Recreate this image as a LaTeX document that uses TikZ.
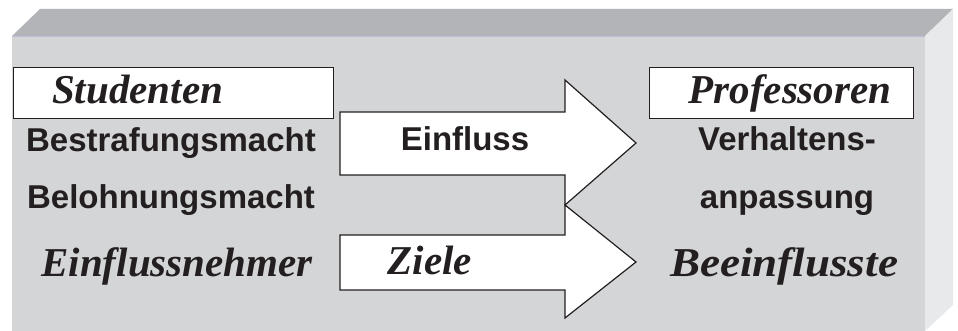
\documentclass[tikz,border=0pt]{standalone}
\usepackage{fontspec}
\setmainfont{Liberation Serif}
\setsansfont{Liberation Sans}
\definecolor{topgray}{HTML}{B2B4B7}
\definecolor{frontgray}{HTML}{D4D5D7}
\definecolor{sidegray}{HTML}{E8E9EA}
\definecolor{ink}{HTML}{231F20}
\tikzset{
  serifbig/.style={font=\fontsize{41}{41}\selectfont\rmfamily\bfseries\itshape, text=ink, inner sep=0pt},
  sansbig/.style={font=\fontsize{33}{33}\selectfont\sffamily\bfseries, text=ink, inner sep=0pt},
  titlebox/.style={draw=ink, line width=1.3pt, fill=white, inner sep=0pt, anchor=north west},
  bigarrow/.style={draw=ink, line width=1.2pt, fill=white, line join=miter},
}
\begin{document}
\begin{tikzpicture}[x=1pt,y=-1pt]
\useasboundingbox (0,0) rectangle (958,331);
% block faces
\fill[topgray] (12,36) -- (40,9) -- (953,9) -- (925,36) -- cycle;
\fill[sidegray] (925,36) -- (953,9) -- (953,305) -- (925,331) -- cycle;
\fill[frontgray] (12,36) rectangle (925,331);
\draw[color=topgray!80!blue!60!white, line width=0.8pt] (12,36) -- (925,36);
% title boxes
\node[titlebox, minimum width=320pt, minimum height=51pt] (studbox) at (13,67) {};
\node[titlebox, minimum width=264pt, minimum height=51pt] (profbox) at (649,67) {};
\node[serifbig, anchor=base west] (stud) at (52,104) {Studenten};
\node[serifbig, anchor=base] (prof) at (790,104) {Professoren};
% left column
\node[sansbig, anchor=base] (bestr) at (171,152) {Bestrafungsmacht};
\node[sansbig, anchor=base] (beloh) at (171,208) {Belohnungsmacht};
\node[serifbig, anchor=base] (nehmer) at (177,276) {Einflussnehmer};
% right column
\node[sansbig, anchor=base] (verh) at (787,151) {Verhaltens-};
\node[sansbig, anchor=base] (anp) at (787,208) {anpassung};
\node[serifbig, anchor=base, xscale=1.1] (beein) at (784,276) {Beeinflusste};
% arrows
\draw[bigarrow] (340,112) -- (565,112) -- (565,80) -- (636,143) -- (565,205) -- (565,175) -- (340,175) -- cycle;
\draw[bigarrow] (340,235) -- (565,235) -- (565,205) -- (636,262) -- (565,318) -- (565,290) -- (340,290) -- cycle;
\node[sansbig, anchor=base] (einfl) at (465,151) {Einfluss};
\node[serifbig, anchor=base] (ziele) at (430,274) {Ziele};
\end{tikzpicture}
\end{document}
